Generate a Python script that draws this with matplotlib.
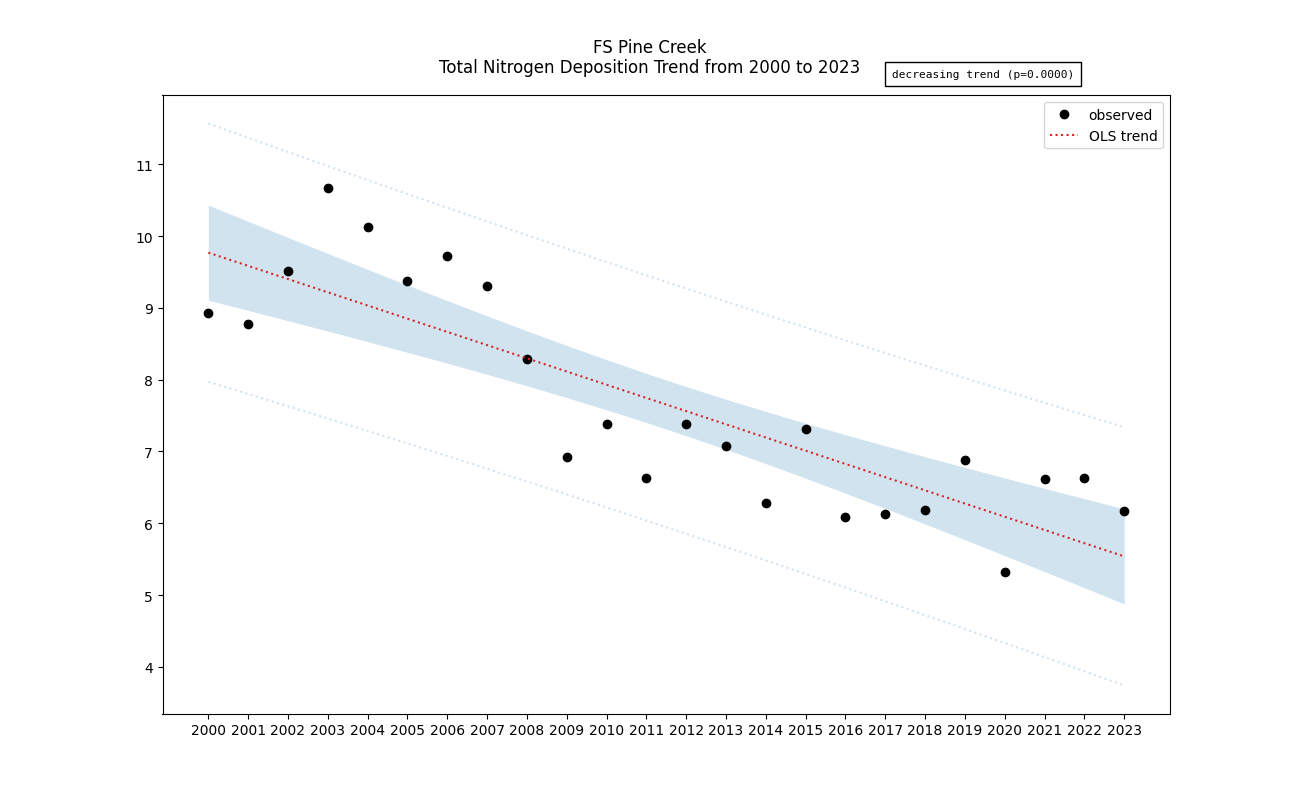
import numpy as np
import matplotlib
matplotlib.use('Agg')
import matplotlib.pyplot as plt

# observed annual totals
years = np.arange(2000, 2024)
values = [8.93, 8.77, 9.52, 10.67, 10.12, 9.37, 9.72, 9.30, 8.29, 6.92,
          7.38, 6.63, 7.38, 7.08, 6.28, 7.31, 6.09, 6.13, 6.19, 6.88,
          5.32, 6.62, 6.63, 6.17]
site = 'FS Pine Creek'
tlabel = 'decreasing trend (p=0.0000)'

x = years.astype(float)
y = np.array(values)
n = len(x)

# OLS fit + 95% confidence and prediction bands
slope, icpt = np.polyfit(x, y, 1)
fit = icpt + slope * x
resid = y - fit
s = np.sqrt(np.sum(resid ** 2) / (n - 2))
sxx = np.sum((x - x.mean()) ** 2)
tval = 2.0739  # t(0.975, df=22)
se_mean = s * np.sqrt(1.0 / n + (x - x.mean()) ** 2 / sxx)
se_pred = s * np.sqrt(1 + 1.0 / n + (x - x.mean()) ** 2 / sxx)

fig, ax = plt.subplots(figsize=(13, 8.03), dpi=100)
ax.plot(x, y, 'o', color='black', label='observed')
ax.plot(x, fit, ':', color='tab:red', label='OLS trend')
ax.fill_between(x, fit - tval * se_mean, fit + tval * se_mean, color='C0', alpha=0.2, lw=0)
ax.plot(x, fit - tval * se_pred, ':', color='C0', alpha=0.2)
ax.plot(x, fit + tval * se_pred, ':', color='C0', alpha=0.2)

ax.set_xticks(years)
ax.set_xticklabels([str(yr) for yr in years])
fig.suptitle(site + '\nTotal Nitrogen Deposition Trend from 2000 to 2023', y=0.952)
ax.text(0.724, 1.034, tlabel, transform=ax.transAxes, fontsize=8,
        family='monospace', va='center',
        bbox=dict(facecolor='white', edgecolor='black', pad=5))
ax.legend(loc='upper right')

fig.savefig('out.png', dpi=100)
